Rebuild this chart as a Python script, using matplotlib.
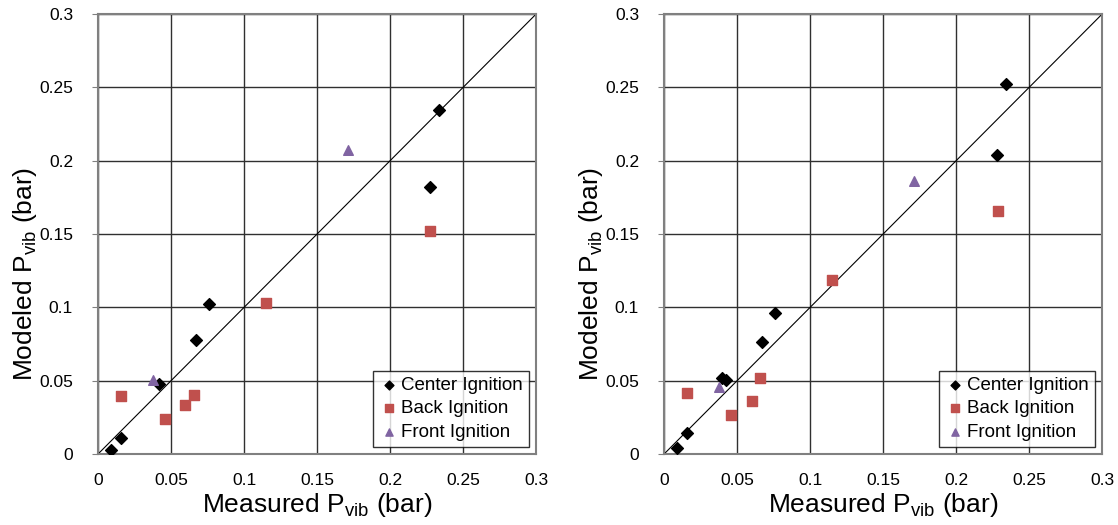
import numpy as np
import matplotlib
matplotlib.use("Agg")
import matplotlib.pyplot as plt

plt.rcParams['font.family'] = ['Liberation Sans', 'DejaVu Sans']
plt.rcParams['mathtext.fontset'] = 'custom'
plt.rcParams['mathtext.rm'] = 'Liberation Sans'

ticks = [0, 0.05, 0.1, 0.15, 0.2, 0.25, 0.3]
tick_labels = ['0', '0.05', '0.1', '0.15', '0.2', '0.25', '0.3']

# left panel
left_center_x = [0.0087, 0.016, 0.0418, 0.0669, 0.0758, 0.2276, 0.2338]
left_center_y = [0.0027, 0.0109, 0.0475, 0.078, 0.1026, 0.1824, 0.2343]
left_back_x = [0.016, 0.0461, 0.0598, 0.066, 0.1148, 0.2276]
left_back_y = [0.0396, 0.0239, 0.0337, 0.0403, 0.103, 0.1524]
left_front_x = [0.0377, 0.171]
left_front_y = [0.0505, 0.2075]

# right panel
right_center_x = [0.0089, 0.0158, 0.040, 0.0421, 0.0668, 0.0761, 0.2277, 0.2339]
right_center_y = [0.0039, 0.0143, 0.0516, 0.0505, 0.0764, 0.096, 0.2038, 0.2522]
right_back_x = [0.0158, 0.046, 0.0599, 0.0659, 0.115, 0.2284]
right_back_y = [0.0414, 0.0268, 0.0359, 0.0519, 0.1185, 0.166]
right_front_x = [0.0377, 0.1713]
right_front_y = [0.0455, 0.186]

panels = [
    (left_center_x, left_center_y, left_back_x, left_back_y, left_front_x, left_front_y),
    (right_center_x, right_center_y, right_back_x, right_back_y, right_front_x, right_front_y),
]

fig = plt.figure(figsize=(11.18, 5.25), dpi=100)
lefts = [0.0877, 0.594]

for left, (cx, cy, bx, by, fx, fy) in zip(lefts, panels):
    ax = fig.add_axes([left, 0.1352, 0.3918, 0.838])
    ax.set_xlim(0, 0.3)
    ax.set_ylim(0, 0.3)
    ax.set_xticks(ticks)
    ax.set_yticks(ticks)
    ax.set_xticklabels(tick_labels)
    ax.set_yticklabels(tick_labels)
    ax.grid(True, color='#303030', linewidth=1.0)
    ax.set_axisbelow(True)
    for s in ax.spines.values():
        s.set_color('#808080')
        s.set_linewidth(1.5)
    ax.tick_params(axis='both', labelsize=12.5, length=0, pad=14)
    ax.tick_params(axis='y', length=4, direction='out', color='#808080')

    ax.plot([0, 0.3], [0, 0.3], color='black', linewidth=0.8, zorder=2)
    ax.scatter(cx, cy, marker='D', s=36, color='black', label='Center Ignition', zorder=3)
    ax.scatter(bx, by, marker='s', s=52, color='#C0504D', label='Back Ignition', zorder=3)
    ax.scatter(fx, fy, marker='^', s=48, color='#8064A2', label='Front Ignition', zorder=3)

    ax.set_xlabel(r'Measured P$_{\mathregular{vib}}$ (bar)', fontsize=19, labelpad=2)
    ax.set_ylabel(r'Modeled P$_{\mathregular{vib}}$ (bar)', fontsize=19)
    ax.yaxis.set_label_coords(-0.134, 0.41)

    leg = ax.legend(loc='lower right', fontsize=13.5, frameon=True, fancybox=False,
                    edgecolor='black', handletextpad=0.1, handlelength=1.1,
                    borderpad=0.3, labelspacing=0.35, borderaxespad=0.4,
                    markerscale=0.75)
    leg.get_frame().set_linewidth(1.0)

fig.savefig('out.png', dpi=100)
